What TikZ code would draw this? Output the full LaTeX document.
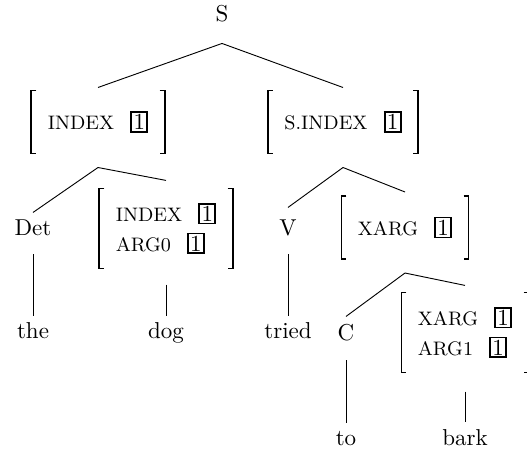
\documentclass[tikz,border=0pt]{standalone}
\usepackage{amsmath}
\usepackage{tikz}
\usetikzlibrary{calc}

% feature names and boxed re-entrancy tags
\newcommand{\feat}[1]{{\fontsize{8.5}{10}\selectfont #1}}
\newcommand{\tagbox}[1]{{\setlength{\fboxsep}{0.6pt}\setlength{\fboxrule}{0.8pt}\fbox{#1}}}
% square brackets round an avm node
\newcommand{\avmbrackets}[1]{%
    \draw[bracket] ([xshift=2.2pt]#1.north west) -- (#1.north west) -- (#1.south west) -- ([xshift=2.2pt]#1.south west);
    \draw[bracket] ([xshift=-2.2pt]#1.north east) -- (#1.north east) -- (#1.south east) -- ([xshift=-2.2pt]#1.south east);}

\begin{document}
\begin{tikzpicture}[x=0.4348pt, y=-0.4348pt]
    \tikzstyle{word} = [inner sep=0pt, text height=7pt, text depth=0pt, anchor=base]
    \tikzstyle{avm} = [inner xsep=7pt, inner ysep=6pt, minimum height=27pt, align=left]
    \tikzstyle{branch} = [line width=0.4pt]
    \tikzstyle{bracket} = [line width=0.65pt]
    \useasboundingbox (0,0) rectangle (527,448);
	\path[branch]
		node[word] (S) at (222,22) {S}
		node[avm] (top1) at (98,122) {\feat{INDEX}\hspace{7pt}\tagbox{1}}
		node[avm] (top2) at (343,122) {\feat{S.INDEX}\hspace{7pt}\tagbox{1}}
		node[word] (Det) at (33,235) {Det}
		node[avm] (dogavm) at (166,228.5) {\feat{INDEX}\hspace{7pt}\tagbox{1}\\[1pt]\feat{ARG0}\hspace{7pt}\tagbox{1}}
		node[word] (V) at (288,235) {V}
		node[avm] (xargavm) at (405,227.5) {\feat{XARG}\hspace{7pt}\tagbox{1}}
		node[word] (the) at (33,338) {the}
		node[word] (dog) at (166,338) {dog}
		node[word] (tried) at (288,338) {tried}
		node[word] (C) at (346,340) {C}
		node[avm] (barkavm) at (465,332.5) {\feat{XARG}\hspace{7pt}\tagbox{1}\\[1pt]\feat{ARG1}\hspace{7pt}\tagbox{1}}
		node[word] (to) at (346,445) {to}
		node[word] (bark) at (465,445) {bark}
		($(S.south)+(0,21)$) edge ($(top1.north)+(0,-3)$)
		($(S.south)+(0,21)$) edge ($(top2.north)+(0,-3)$)
		($(top1.south)+(0,14)$) edge ($(Det.north)+(0,-6)$)
		($(top1.south)+(0,14)$) edge ($(dogavm.north)+(0,-8)$)
		($(Det.south)+(0,19)$) edge ($(the.north)+(0,-5)$)
		($(dogavm.south)+(0,16)$) edge ($(dog.north)+(0,-5)$)
		($(top2.south)+(0,14)$) edge ($(V.north)+(0,-11)$)
		($(top2.south)+(0,14)$) edge ($(xargavm.north)+(0,-4)$)
		($(V.south)+(0,19)$) edge ($(tried.north)+(0,-5)$)
		($(xargavm.south)+(0,14)$) edge ($(C.north)+(0,-7)$)
		($(xargavm.south)+(0,14)$) edge ($(barkavm.north)+(0,-7)$)
		($(C.south)+(0,20)$) edge ($(to.north)+(0,-5)$)
		($(barkavm.south)+(0,19)$) edge ($(bark.north)+(0,-6)$)
		;
	\avmbrackets{top1}
	\avmbrackets{top2}
	\avmbrackets{dogavm}
	\avmbrackets{xargavm}
	\avmbrackets{barkavm}
\end{tikzpicture}
\end{document}
